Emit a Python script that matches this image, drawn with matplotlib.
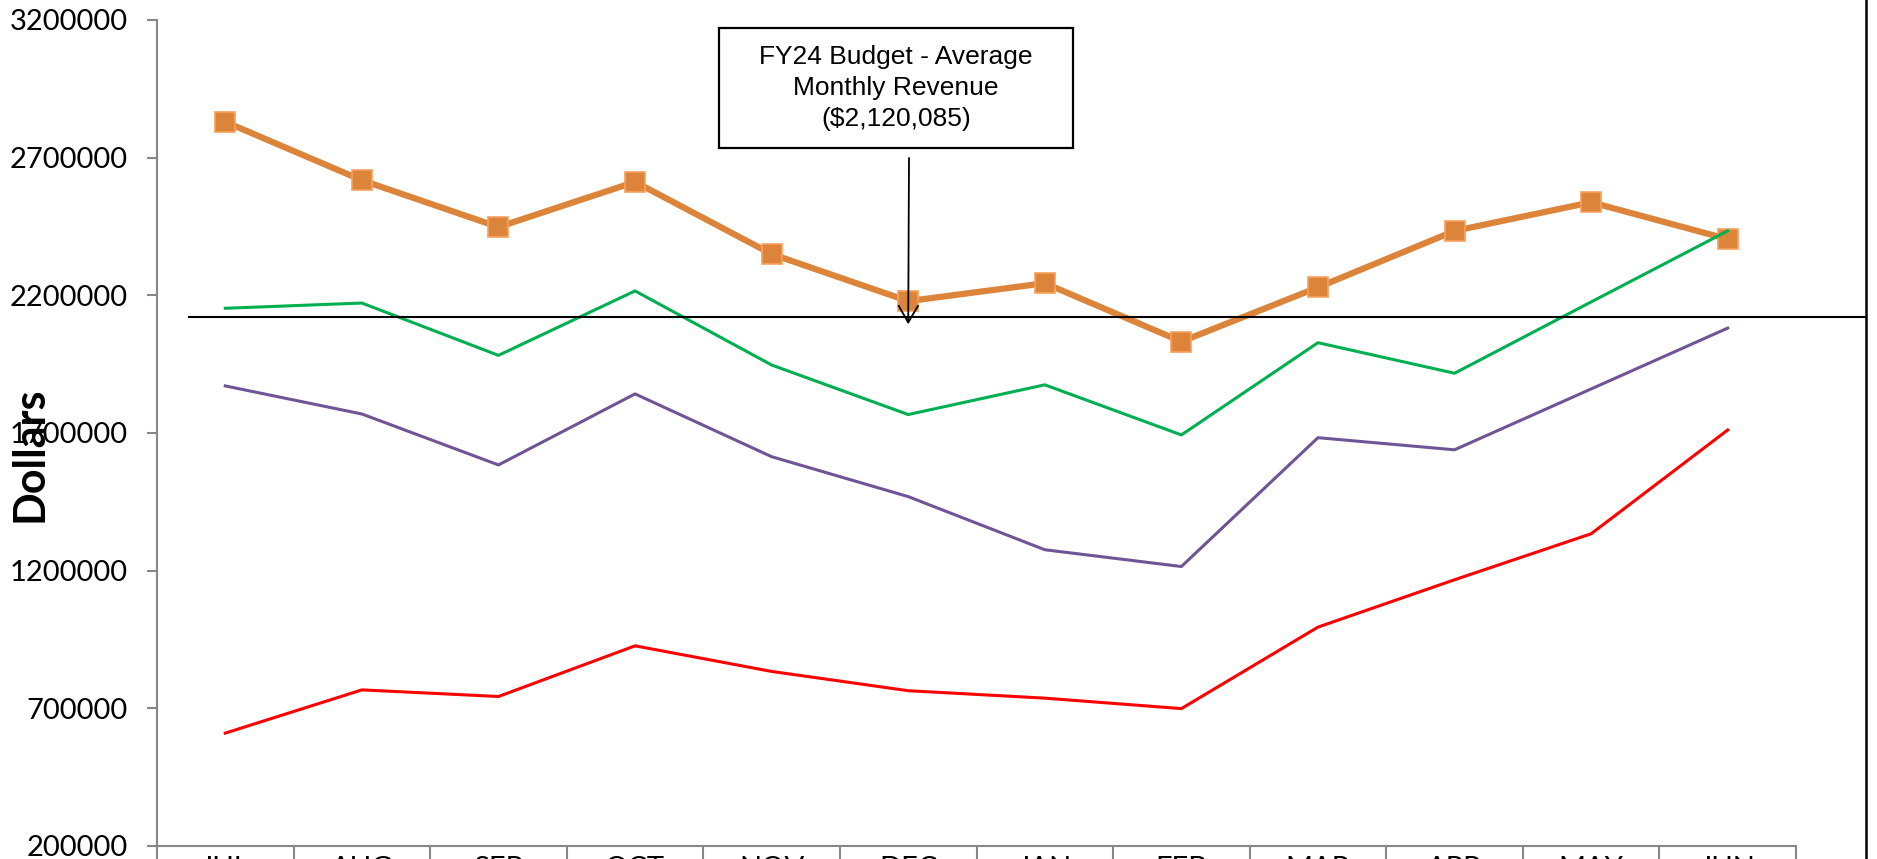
#%%
# FY24 monthly revenue vs. budget line chart

# IMPORTS #######################################

import matplotlib
matplotlib.use('Agg')
import matplotlib.pyplot as plt
from matplotlib.lines import Line2D
from matplotlib.patches import Rectangle
import numpy as np

# SETUP #########################################

plt.rcParams.update({
    'font.family': ['Lato', 'DejaVu Sans'],
    'font.size': 21,
})

W, H = 1877, 859  # output size in pixels (dpi 100)

# DATA ##########################################

months = ['JUL', 'AUG', 'SEP', 'OCT', 'NOV', 'DEC',
          'JAN', 'FEB', 'MAR', 'APR', 'MAY', 'JUN']

revenue_orange = [2830000, 2618000, 2448000, 2612000, 2350000, 2179000,
                  2244000, 2032000, 2229000, 2434000, 2538000, 2404000]
revenue_green = [2153000, 2172000, 1982000, 2216000, 1947000, 1767000,
                 1875000, 1693000, 2028000, 1917000, 2176000, 2434000]
revenue_purple = [1871000, 1769000, 1584000, 1842000, 1614000, 1469000,
                  1276000, 1215000, 1683000, 1639000, 1860000, 2081000]
revenue_red = [610000, 767000, 743000, 927000, 834000, 764000,
               737000, 699000, 995000, 1167000, 1334000, 1711000]

budget_avg = 2120085
budget_text = 'FY24 Budget - Average\nMonthly Revenue\n($2,120,085)'

y_ticks = [200000, 700000, 1200000, 1700000, 2200000, 2700000, 3200000]

# FIGURE ########################################

fig = plt.figure(figsize = (W/100, H/100), dpi = 100)
fig.patch.set_facecolor('white')

# plot area in pixel units -> figure fraction
left_px, right_px, top_px, bottom_px = 157, 1796, 20, 846
ax = fig.add_axes([
    left_px/W,
    (H - bottom_px)/H,
    (right_px - left_px)/W,
    (bottom_px - top_px)/H,
])

x = np.arange(len(months))

# AXIS LIMITS ################

ax.set_xlim(-0.5, len(months) - 0.5)
ax.set_ylim(200000, 3200000)

# SPINES #####################

axis_gray = '#878787'
for side in ['top', 'right']:
    ax.spines[side].set_visible(False)
for side in ['left', 'bottom']:
    ax.spines[side].set_color(axis_gray)
    ax.spines[side].set_linewidth(1.5)

# TICKS AND LABELS ###########

ax.set_yticks(y_ticks)
ax.set_yticklabels([str(v) for v in y_ticks])
ax.tick_params(axis='y', direction='out', length=7, width=1.5,
               color=axis_gray, pad=14, labelsize=21)

# category boundaries carry the tick marks, month names sit in between
ax.set_xticks(np.arange(-0.5, len(months)), labels=[])
ax.set_xticks(x, labels=months, minor=True)
ax.tick_params(axis='x', which='major', direction='out', length=14,
               width=1.5, color=axis_gray)
ax.tick_params(axis='x', which='minor', length=0, pad=7.2, labelsize=21)

fig.text(29/W, 1 - 454/H, 'Dollars', rotation=90, fontsize=31,
         fontweight='bold', ha='center', va='center')

# PLOTTING ###################

ax.plot(x, revenue_orange, color='#DD843B', linewidth=4.5,
        marker='s', markersize=14, markerfacecolor='#DD843B',
        markeredgecolor='#F7A15E', markeredgewidth=1.2, zorder=3)
ax.plot(x, revenue_green, color='#00B050', linewidth=2.2, zorder=4)
ax.plot(x, revenue_purple, color='#6F5496', linewidth=2.2, zorder=4)
ax.plot(x, revenue_red, color='#FF0000', linewidth=2.2, zorder=4)

# budget reference line runs past the plot area to the chart border
ax.axhline(budget_avg, xmin=(189 - left_px)/(right_px - left_px),
           xmax=(1866 - left_px)/(right_px - left_px),
           color='black', linewidth=1.5, clip_on=False, zorder=5)

# chart border on the right
fig.add_artist(Line2D([1866/W, 1866/W], [0, 1], transform=fig.transFigure,
                      color='black', linewidth=1.8))

# ANNOTATION #################

box_l, box_r, box_t, box_b = 719, 1073, 28, 148
fig.add_artist(Rectangle((box_l/W, 1 - box_b/H), (box_r - box_l)/W,
                         (box_b - box_t)/H, transform=fig.transFigure,
                         facecolor='white', edgecolor='black', linewidth=1.6,
                         zorder=6))
fig.text((box_l + box_r)/2/W, 1 - (box_t + box_b)/2/H, budget_text,
         family=['Liberation Sans', 'DejaVu Sans'], fontsize=19,
         ha='center', va='center', linespacing=1.35, zorder=7)

ax.annotate('', xy=(months.index('DEC'), budget_avg - 25000),
            xycoords='data',
            xytext=(909/W, 1 - 158/H), textcoords='figure fraction',
            arrowprops=dict(arrowstyle='->,head_length=0.6,head_width=0.35',
                            mutation_scale=20, color='black', linewidth=1.3,
                            shrinkA=0, shrinkB=0),
            zorder=6)

# EXPORT #########################################

fig.savefig('out.png', dpi = 100, facecolor='white')
